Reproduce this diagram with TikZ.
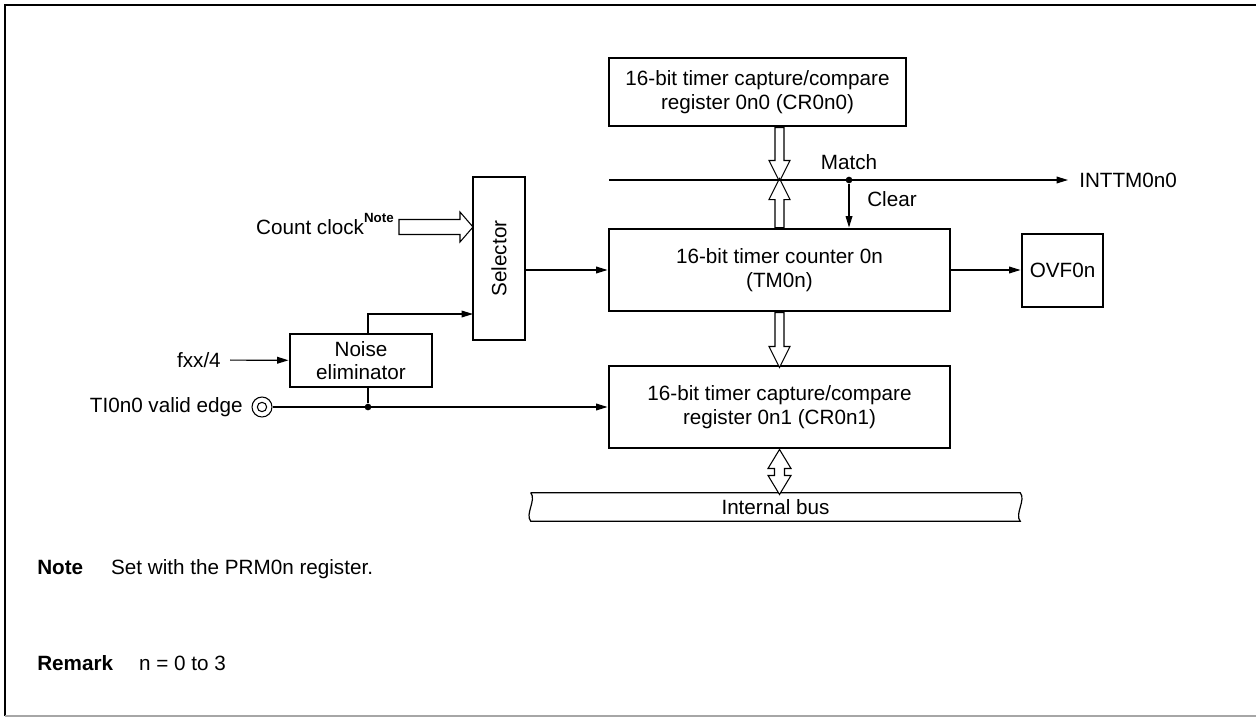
\documentclass[tikz,border=0pt]{standalone}
\usepackage{fontspec}
\setmainfont{Liberation Sans}
\usetikzlibrary{arrows.meta,positioning,calc}

\begin{document}
\begin{tikzpicture}[x=0.75pt, y=-0.75pt,
    every node/.style={font=\fontsize{15.5}{17.5}\selectfont},
    block/.style={rectangle, draw, line width=2.2pt, inner sep=0pt, align=center},
    arrow/.style={-{Triangle[length=8.5pt,width=5pt]}, line width=0.9pt},
    wire/.style={line width=0.9pt},
    hollow/.style={draw, fill=white, line width=0.8pt, line join=miter},
    dot/.style={circle, fill, inner sep=0pt, minimum size=5pt}
]
    \useasboundingbox (0,0) rectangle (1256,717);
    % frame
    \draw[line width=2.2pt] (5,716) -- (5,5) -- (1256,5);
    \draw[gray!70, line width=1pt] (5,716) -- (1256,716);

    % registers and counter
    \node[block, minimum width=222.75pt, minimum height=51pt] (cr0) at (757.5,92) {16-bit timer capture/compare\\register 0n0 (CR0n0)};
    \node[block, minimum width=255.75pt, minimum height=61.5pt] (tm) at (779.5,270) {16-bit timer counter 0n\\(TM0n)};
    \node[block, minimum width=255.75pt, minimum height=61.5pt] (cr1) at (779.5,407) {16-bit timer capture/compare\\register 0n1 (CR0n1)};
    \node[block, minimum width=60.75pt, minimum height=54.75pt] (ovf) at (1062.5,270.5) {OVF0n};
    \node[block, minimum width=39pt, minimum height=122.25pt, label={[rotate=90]center:Selector}] (sel) at (499,258.5) {};
    \node[block, minimum width=106.5pt, minimum height=39.75pt] (noise) at (361,360.5) {Noise\\eliminator};

    % inputs and outputs
    \node[anchor=base east, inner sep=0pt] (cclk) at (394,234) {Count clock\raisebox{0.55em}{\fontsize{10}{10}\selectfont\bfseries Note}};
    \node[anchor=east, inner sep=0pt, inner xsep=6.75pt] (fxx) at (230,360) {fxx/4};
    \node[anchor=east, inner sep=0pt] (ti) at (243,407) {TI0n0 valid edge};
    \node[draw, circle, line width=0.8pt, minimum size=15pt, inner sep=0pt] (pin) at (262,407) {};
    \node[draw, circle, line width=0.8pt, minimum size=7pt, inner sep=0pt] (pinin) at (pin) {};
    \node[anchor=west, inner sep=0pt, inner xsep=8.25pt] (inttm) at (1068,180) {INTTM0n0};
    \node[inner sep=0pt] (match) at (849,162) {Match};
    \node[anchor=west, inner sep=0pt] (clr) at (867,199) {Clear};

    % internal bus
    \node[minimum width=366.75pt, minimum height=21pt, inner sep=0pt] (bus) at (775.5,507) {Internal bus};
    \draw[wire] (bus.north west) -- (bus.north east) .. controls +(6,7) and +(-6,-7) .. (bus.south east)
        -- (bus.south west) .. controls +(-6,-7) and +(6,7) .. (bus.north west);

    % hollow (bus) arrows
    \coordinate (ccin) at (473,227);
    \draw[hollow] (ccin) ++(-74,-7.5) -- ++(61,0) -- ++(0,-7.5) -- ++(13,15) -- ++(-13,15) -- ++(0,-7.5) -- ++(-61,0) -- cycle;
    \draw[hollow] (tm.north |- cr0.south) ++(-4.5,0) -- ++(0,33) -- ++(-6,0) -- ++(10.5,21) -- ++(10.5,-21) -- ++(-6,0) -- ++(0,-33) -- cycle;
    \draw[hollow] (tm.north) ++(-4.5,0) -- ++(0,-28) -- ++(-6,0) -- ++(10.5,-21) -- ++(10.5,21) -- ++(-6,0) -- ++(0,28) -- cycle;
    \draw[hollow] (tm.south) ++(-4.5,0) -- ++(0,34) -- ++(-6,0) -- ++(10.5,21) -- ++(10.5,-21) -- ++(-6,0) -- ++(0,-34) -- cycle;
    \draw[hollow] (cr1.south) -- ++(11.5,19) -- ++(-6.5,0) -- ++(0,7) -- ++(6.5,0) -- ++(-11.5,19)
        -- ++(-11.5,-19) -- ++(6.5,0) -- ++(0,-7) -- ++(-6.5,0) -- cycle;

    % match / clear
    \coordinate (matchL) at (609,180);
    \node[dot] (mdot) at (849,180) {};
    \draw[arrow] (matchL) -- (inttm);
    \draw[arrow] (mdot) -- (mdot |- tm.north);

    % signal lines
    \draw[arrow] (sel.east |- tm.west) -- (tm.west);
    \draw[arrow] (tm.east) -- (ovf.west |- tm.east);
    \draw[arrow] (fxx) -- (noise);
    \draw[arrow] (pin) -- (cr1.west);
    \node[dot] (tap) at (368,407) {};
    \draw[wire] (tap) -- (tap |- noise.south);
    \coordinate (selin) at (473,314);
    \draw[arrow] (tap |- noise.north) |- (selin);

    % notes
    \node[anchor=west, inner sep=0pt] (note) at (37,569) {\textbf{Note}\hspace{21pt}Set with the PRM0n register.};
    \node[anchor=west, inner sep=0pt] (remark) at (37,663) {\textbf{Remark}\hspace{19.5pt}n = 0 to 3};
\end{tikzpicture}
\end{document}
